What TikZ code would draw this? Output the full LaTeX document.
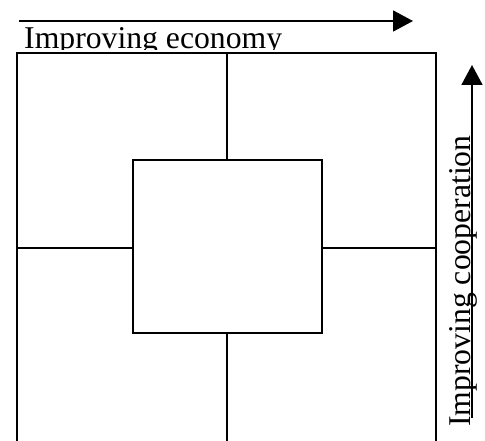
\documentclass[tikz,border=0pt]{standalone}
\usepackage{fontspec}
\setmainfont{Liberation Serif}
\usetikzlibrary{arrows.meta}
\begin{document}
\begin{tikzpicture}[x=1pt,y=-1pt,
  ln/.style={line width=1.8pt,black},
  arr/.style={line width=1.8pt,-{Triangle[length=20pt,width=21pt]}},
  lbl/.style={inner sep=0pt,font=\fontsize{31.7}{38}\selectfont}]
\useasboundingbox (0,0) rectangle (485,441);
% top arrow
\coordinate (ha) at (19,21);
\coordinate (hb) at (413,21);
\draw[arr] (ha) -- (hb);
\begin{scope}
\clip (0,0) rectangle (485,50);
\node[lbl,anchor=base west] (econ) at (24,48.5) {Improving economy};
\end{scope}
% outer frame (open at bottom)
\coordinate (bl) at (17,441);
\coordinate (tl) at (17,53);
\coordinate (tr) at (436,53);
\coordinate (br) at (436,441);
\draw[ln] (bl) -- (tl) -- (tr) -- (br);
% inner box
\node[ln,draw,minimum width=189pt,minimum height=173pt,inner sep=0pt] (inner) at (227.5,246.5) {};
\coordinate (tm) at (227,53);
\coordinate (bm) at (227,441);
\coordinate (lm) at (17,248);
\coordinate (rm) at (436,248);
\draw[ln] (tm) -- (tm |- inner.north);
\draw[ln] (bm) -- (bm |- inner.south);
\draw[ln] (lm) -- (lm -| inner.west);
\draw[ln] (rm) -- (rm -| inner.east);
% right arrow
\coordinate (va) at (472,418);
\coordinate (vb) at (472,65);
\draw[arr] (va) -- (vb);
\node[lbl,rotate=90,anchor=base west] (coop) at (470,427) {Improving cooperation};
\end{tikzpicture}
\end{document}
